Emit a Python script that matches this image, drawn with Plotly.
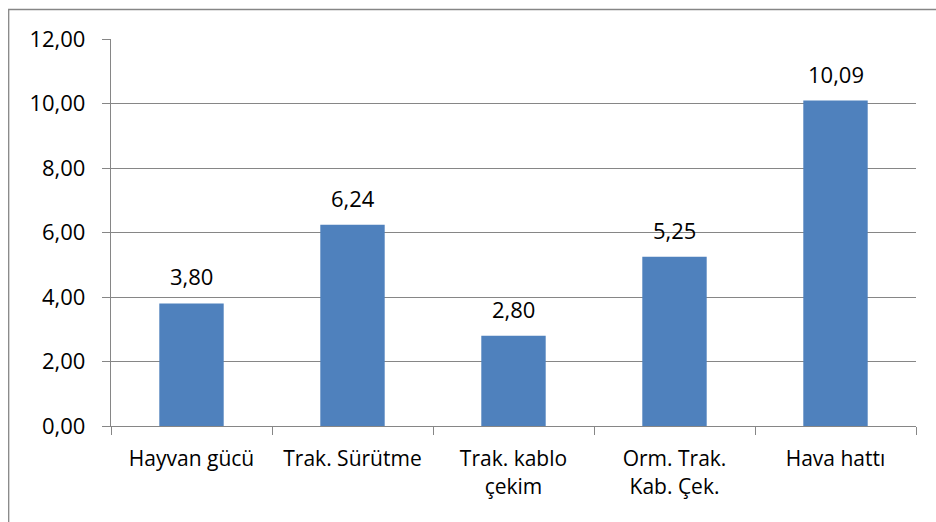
import plotly.graph_objects as go

categories = ["Hayvan gücü", "Trak. Sürütme", "Trak. kablo<br>çekim", "Orm. Trak.<br>Kab. Çek.", "Hava hattı"]
values = [3.80, 6.24, 2.80, 5.25, 10.09]
y_ticks = [0, 2, 4, 6, 8, 10, 12]

W, H = 936, 522
L, R, T, B = 111, 20, 39, 96
pw, ph = W - L - R, H - T - B

FONT = "Open Sans"
FS = 22
GRID = "#868686"
BAR = "#4F81BD"

fig = go.Figure()
fig.add_trace(go.Bar(x=categories, y=values, marker=dict(color=BAR, line=dict(width=0)), width=0.4))

for c, v in zip(categories, values):
    fig.add_annotation(x=c, y=v, text=f"{v:.2f}".replace(".", ","), showarrow=False,
                       yanchor="middle", yshift=27, font=dict(family=FONT, size=FS, color="#000000"))

# chart border (extends beyond right/bottom edges like the reference)
fig.add_shape(type="rect", xref="paper", yref="paper",
              x0=(8.7 - L) / pw, x1=(W + 20 - L) / pw,
              y0=-(H + 20 - T - ph) / ph, y1=1 + (T - 9.5) / ph,
              line=dict(color=GRID, width=1.3), fillcolor="rgba(0,0,0,0)", layer="below")

fig.update_layout(
    width=W, height=H,
    margin=dict(l=L, r=R, t=T, b=B, autoexpand=False),
    paper_bgcolor="white", plot_bgcolor="white",
    separators=",.",
    showlegend=False,
    font=dict(family=FONT, size=FS, color="#000000"),
    bargap=0.6,
)
fig.update_yaxes(range=[0, 12], tickvals=y_ticks, tickformat=".2f",
                 showgrid=True, gridcolor=GRID, gridwidth=1.3,
                 showline=True, linecolor=GRID, linewidth=1.3,
                 ticks="outside", ticklen=8, tickcolor=GRID, tickwidth=1.3,
                 ticklabelstandoff=12, zeroline=False,
                 tickfont=dict(family=FONT, size=FS, color="#000000"))
fig.update_xaxes(showline=True, linecolor=GRID, linewidth=1.3,
                 ticks="outside", ticklen=8, tickcolor=GRID, tickwidth=1.3,
                 tickson="boundaries", showgrid=False, ticklabelstandoff=14,
                 tickfont=dict(family=FONT, size=FS - 1, color="#000000"))

fig.write_html("out.html", config={"displayModeBar": False},
               post_script="document.body.style.margin='0px';")
